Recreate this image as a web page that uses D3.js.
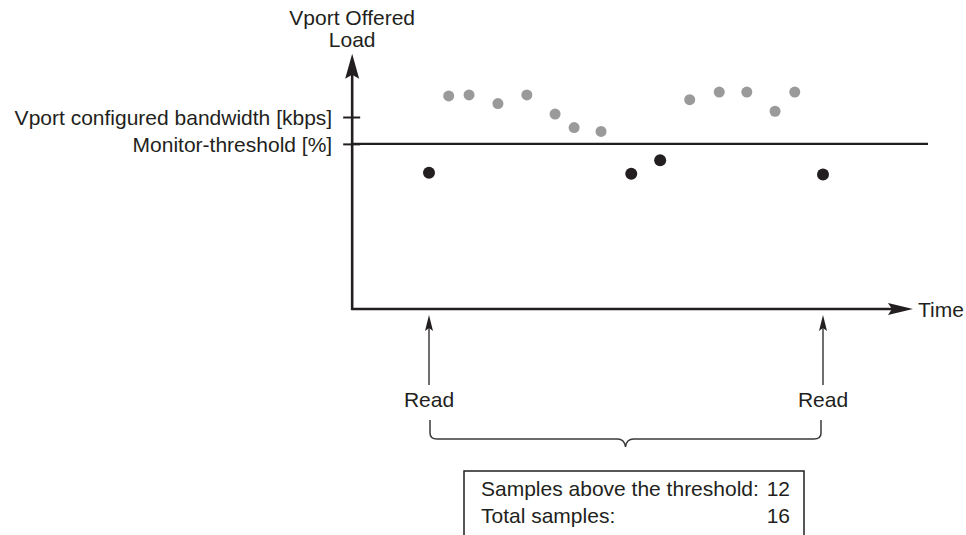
<!DOCTYPE html>
<html>
<head>
<meta charset="utf-8">
<script src="https://cdn.jsdelivr.net/npm/d3@7"></script>
<style>
  body { margin: 0; background: #fff; }
  text { font-family: "Liberation Sans", Arial, sans-serif; font-size: 21px; fill: #231f20; }
</style>
</head>
<body>
<div id="chart"></div>
<script>
// sample times (seconds within one read interval) and offered load (% of vport bandwidth)
const aboveTimes = [3, 6.1, 10.5, 14.9, 19.2, 22.1, 26.2, 39.7, 44.2, 48.4, 52.7, 55.7];
const aboveLoads = [111, 111.5, 107, 111.5, 101.5, 94.5, 92.5, 109, 113, 113, 103, 113];
const belowTimes = [0, 30.8, 35.2, 60];
const belowLoads = [71, 70.5, 77.5, 70];
const readTimes = [0, 60];
const tickValues = [86, 100];
const tickLabels = ['Monitor-threshold [%]', 'Vport configured bandwidth [kbps]'];
const threshold = 86;
const summaryLabels = ['Samples above the threshold:', 'Total samples:'];
const summaryValues = [12, 16];

const width = 966, height = 535;
const ink = '#231f20';

const svg = d3.select('#chart').append('svg')
  .attr('width', width)
  .attr('height', height);

// Scales
const x = d3.scaleLinear().domain([0, 60]).range([429, 823]);
const y = d3.scaleLinear().domain([0, 100]).range([309, 117]);

const x0 = x(-11.7);       // y axis position
const xEnd = x(73.7);      // time arrow tip
const yTop = y(133);       // load arrow tip

// Y axis with the two labelled ticks
const yAxis = d3.axisLeft(y)
  .tickValues(tickValues)
  .tickFormat((d, i) => tickLabels[i])
  .tickSize(9)
  .tickPadding(11);

const gy = svg.append('g')
  .attr('transform', `translate(${x0},0)`)
  .call(yAxis);
gy.select('.domain').remove();
gy.selectAll('.tick line').attr('x1', 8).attr('stroke', ink).attr('stroke-width', 2);
gy.selectAll('.tick text').style('font-size', '21px').attr('fill', ink).attr('dy', '0.36em');

// Axis lines
svg.append('line')
  .attr('x1', x0).attr('x2', x0)
  .attr('y1', y(0) + 1).attr('y2', yTop + 16)
  .attr('stroke', ink).attr('stroke-width', 2.6);
svg.append('line')
  .attr('x1', x0 - 1).attr('x2', xEnd - 16)
  .attr('y1', y(0)).attr('y2', y(0))
  .attr('stroke', ink).attr('stroke-width', 2.6);

// Arrow heads
svg.append('path')
  .attr('d', `M${x0},${yTop} L${x0 + 7},${yTop + 25} L${x0},${yTop + 21} L${x0 - 7},${yTop + 25} Z`)
  .attr('fill', ink);
svg.append('path')
  .attr('d', `M${xEnd},${y(0)} L${xEnd - 25},${y(0) - 6} L${xEnd - 21},${y(0)} L${xEnd - 25},${y(0) + 6} Z`)
  .attr('fill', ink);

// Axis titles
svg.append('text')
  .attr('x', x0).attr('y', 25)
  .attr('text-anchor', 'middle')
  .text('Vport Offered');
svg.append('text')
  .attr('x', x0).attr('y', 47)
  .attr('text-anchor', 'middle')
  .text('Load');
svg.append('text')
  .attr('x', xEnd + 5).attr('y', y(0) + 8)
  .text('Time');

// Threshold line
svg.append('line')
  .attr('x1', x0).attr('x2', 928)
  .attr('y1', y(threshold)).attr('y2', y(threshold))
  .attr('stroke', ink).attr('stroke-width', 2.4);

// Samples
svg.selectAll('.above')
  .data(aboveTimes)
  .enter()
  .append('circle')
  .attr('class', 'above')
  .attr('cx', (d) => x(d))
  .attr('cy', (d, i) => y(aboveLoads[i]))
  .attr('r', 5.5)
  .attr('fill', '#9a9a9a');

svg.selectAll('.below')
  .data(belowTimes)
  .enter()
  .append('circle')
  .attr('class', 'below')
  .attr('cx', (d) => x(d))
  .attr('cy', (d, i) => y(belowLoads[i]))
  .attr('r', 6)
  .attr('fill', ink);

// Read arrows
const reads = svg.selectAll('.read')
  .data(readTimes)
  .enter()
  .append('g')
  .attr('class', 'read')
  .attr('transform', (d) => `translate(${x(d)},0)`);
reads.append('line')
  .attr('y1', 385).attr('y2', 326)
  .attr('stroke', ink).attr('stroke-width', 1.3);
reads.append('path')
  .attr('d', 'M0,315 L4,331 L0,328 L-4,331 Z')
  .attr('fill', ink);
reads.append('text')
  .attr('y', 407)
  .attr('text-anchor', 'middle')
  .text('Read');

// Brace between the reads
const bx1 = x(readTimes[0]) + 1, bx2 = x(readTimes[1]) - 2;
const bm = (bx1 + bx2) / 2;
svg.append('path')
  .attr('d', `M${bx1},420 V433 Q${bx1},439 ${bx1 + 7},439 H${bm - 8} Q${bm - 1},439 ${bm},447 ` +
    `Q${bm + 1},439 ${bm + 8},439 H${bx2 - 7} Q${bx2},439 ${bx2},433 V420`)
  .attr('fill', 'none')
  .attr('stroke', '#3a3a3a')
  .attr('stroke-width', 1.5);

// Summary box
svg.append('rect')
  .attr('x', 464).attr('y', 471)
  .attr('width', 340).attr('height', 90)
  .attr('fill', 'none')
  .attr('stroke', ink)
  .attr('stroke-width', 1.5);
svg.selectAll('.sumLabel')
  .data(summaryLabels)
  .enter()
  .append('text')
  .attr('class', 'sumLabel')
  .attr('x', 481)
  .attr('y', (d, i) => 496 + i * 27)
  .text((d) => d);
svg.selectAll('.sumValue')
  .data(summaryValues)
  .enter()
  .append('text')
  .attr('class', 'sumValue')
  .attr('x', 790)
  .attr('y', (d, i) => 496 + i * 27)
  .attr('text-anchor', 'end')
  .text((d) => d);
</script>
</body>
</html>
